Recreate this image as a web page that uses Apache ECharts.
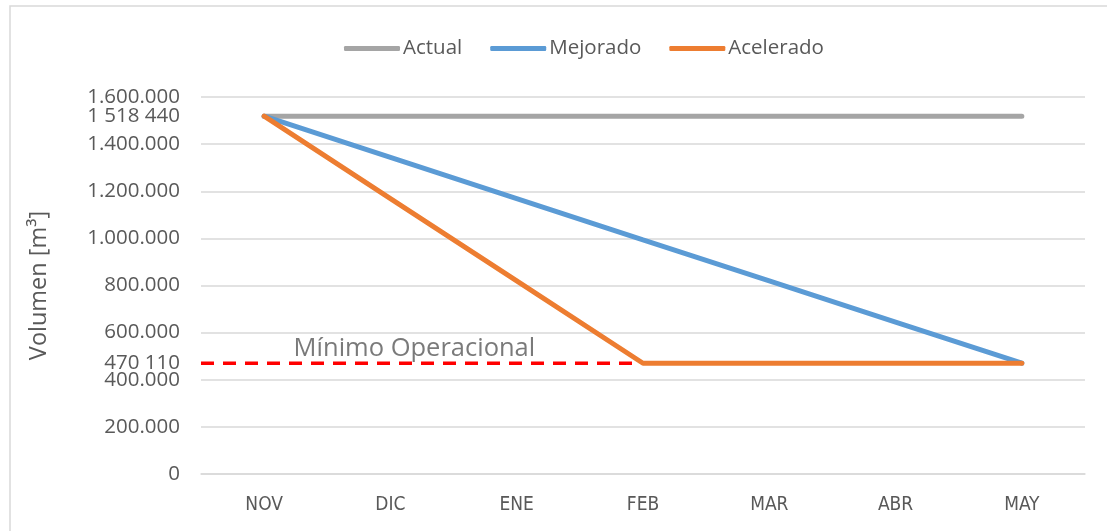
<!DOCTYPE html>
<html>
<head>
    <meta charset="utf-8">
    <title>Volumen</title>
    <script src="https://cdn.jsdelivr.net/npm/echarts@6/dist/echarts.min.js"></script>
</head>
<body style="margin:0">
<div id="main" style="width:1107px;height:531px;"></div>
<script type="text/javascript">
    // data
    var months = ['NOV', 'DIC', 'ENE', 'FEB', 'MAR', 'ABR', 'MAY'];
    var actual = [1518440, 1518440, 1518440, 1518440, 1518440, 1518440, 1518440];
    var mejorado = [1518440, 1344000, 1169000, 994000, 820000, 645000, 470110];
    var acelerado = [1518440, 1169000, 820000, 470110, 470110, 470110, 470110];
    var minimo = 470110;
    var yTicks = [0, 200000, 400000, 600000, 800000, 1000000, 1200000, 1400000, 1600000];
    var yExtra = [470110, 1518440];

    var font = "'Open Sans', sans-serif";
    var grey = '#595959';

    function fmt(v) {
        var s = String(Math.round(v));
        var sep = yExtra.indexOf(v) >= 0 ? ' ' : '.';
        return s.replace(/\B(?=(\d{3})+(?!\d))/g, sep);
    }

    var myChart = echarts.init(document.getElementById('main'));

    var option = {
        animation: false,
        graphic: [{
            type: 'rect',
            shape: { x: 10, y: 6, width: 1110, height: 540 },
            style: { fill: 'none', stroke: '#D9D9D9', lineWidth: 1.5 },
            silent: true
        }],
        legend: {
            data: ['Actual', 'Mejorado', 'Acelerado'],
            icon: 'roundRect',
            top: 33,
            left: 339,
            itemWidth: 56,
            itemHeight: 5,
            itemGap: 28,
            textStyle: { fontFamily: font, fontSize: 20.5, color: grey, padding: [0, 0, 0, -2] }
        },
        grid: { left: 201, right: 22, top: 97, bottom: 57 },
        xAxis: [{
            type: 'category',
            data: months,
            boundaryGap: true,
            axisLine: { lineStyle: { color: '#D9D9D9', width: 1.5 } },
            axisTick: { show: false },
            axisLabel: {
                margin: 22,
                fontFamily: "'Liberation Sans Narrow', 'DejaVu Sans Condensed', sans-serif",
                fontSize: 19,
                color: grey
            }
        }, {
            type: 'value',
            min: 0,
            max: 7,
            show: false
        }],
        yAxis: {
            type: 'value',
            min: 0,
            max: 1600000,
            interval: 200000,
            name: 'Volumen [m³]',
            nameLocation: 'middle',
            nameGap: 150,
            nameTextStyle: { fontFamily: font, fontSize: 23.5, color: grey },
            axisLine: { show: false },
            axisTick: { show: false },
            splitLine: { lineStyle: { color: '#D9D9D9', width: 1.5 } },
            axisLabel: {
                margin: 21,
                fontFamily: font,
                fontSize: 20.5,
                color: grey,
                lineHeight: 18,
                customValues: yTicks.concat(yExtra),
                formatter: fmt
            }
        },
        series: [{
            name: 'Mínimo',
            type: 'line',
            xAxisIndex: 1,
            symbol: 'none',
            z: 1,
            lineStyle: { color: '#FF0000', width: 3.5, type: [13, 9] },
            data: [[0, minimo], [3.5, minimo]]
        }, {
            name: 'MínimoLabel',
            type: 'scatter',
            xAxisIndex: 1,
            symbolSize: 0,
            z: 1,
            label: {
                show: true, position: 'top', distance: 1,
                formatter: 'Mínimo Operacional',
                fontFamily: font, fontSize: 25.5, color: grey
            },
            data: [[1.69, minimo]]
        }, {
            name: 'Actual',
            type: 'line',
            symbol: 'none',
            z: 2,
            color: '#A5A5A5',
            lineStyle: { width: 5, cap: 'round' },
            data: actual
        }, {
            name: 'Mejorado',
            type: 'line',
            symbol: 'none',
            z: 3,
            color: '#5B9BD5',
            lineStyle: { width: 5, cap: 'round' },
            data: mejorado
        }, {
            name: 'Acelerado',
            type: 'line',
            symbol: 'none',
            z: 4,
            color: '#ED7D31',
            lineStyle: { width: 5, cap: 'round', join: 'round' },
            data: acelerado
        }]
    };

    myChart.setOption(option);
</script>
</body>
</html>
